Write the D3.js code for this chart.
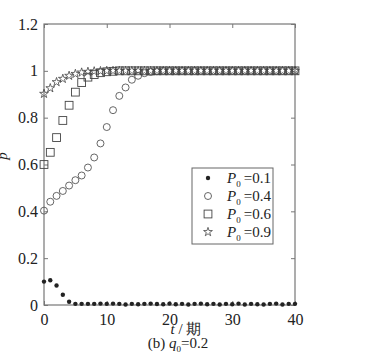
<!DOCTYPE html>
<html>
<head>
<meta charset="utf-8">
<script src="https://cdn.jsdelivr.net/npm/d3@7"></script>
<style>
  body { margin: 0; background: #fff; }
  svg, svg text { font-family: "Liberation Serif", "DejaVu Serif", serif; }
</style>
</head>
<body>
<script>
// t = 0..40
const periods = d3.range(0, 41);

const p01 = [0.100, 0.106, 0.083, 0.044, 0.014, 0.005, 0.005, 0.005, 0.005, 0.006,
             0.005, 0.006, 0.005, 0.002, 0.005, 0.003, 0.005, 0.006, 0.004, 0.003,
             0.006, 0.003, 0.005, 0.002, 0.005, 0.006, 0.003, 0.005, 0.002, 0.005,
             0.003, 0.006, 0.002, 0.005, 0.003, 0.002, 0.005, 0.006, 0.002, 0.005,
             0.005];
const p04 = [0.403, 0.441, 0.466, 0.487, 0.510, 0.533, 0.553, 0.587, 0.630, 0.690,
             0.760, 0.832, 0.893, 0.929, 0.962, 0.979, 0.990, 0.995, 0.998, 1, 1,
             1, 1, 1, 1, 1, 1, 1, 1, 1, 1, 1, 1, 1, 1, 1, 1, 1, 1, 1, 1];
const p06 = [0.600, 0.652, 0.715, 0.788, 0.853, 0.909, 0.950, 0.973, 0.984, 0.992,
             0.996, 0.998, 1, 1, 1, 1, 1, 1, 1, 1, 1,
             1, 1, 1, 1, 1, 1, 1, 1, 1, 1, 1, 1, 1, 1, 1, 1, 1, 1, 1, 1];
const p09 = [0.902, 0.926, 0.952, 0.966, 0.979, 0.987, 0.993, 0.996, 0.998, 0.999,
             1, 1, 1, 1, 1, 1, 1, 1, 1, 1, 1,
             1, 1, 1, 1, 1, 1, 1, 1, 1, 1, 1, 1, 1, 1, 1, 1, 1, 1, 1, 1];

const seriesLabels = ["=0.1", "=0.4", "=0.6", "=0.9"];
const seriesShapes = ["dot", "circle", "square", "star"];
const xTicks = [0, 10, 20, 30, 40];
const yTicks = [0, 0.2, 0.4, 0.6, 0.8, 1, 1.2];

const width = 375, height = 360;
const plotLeft = 44, plotRight = 295, plotTop = 24, plotBottom = 305;
const serif = "'Liberation Serif', 'DejaVu Serif', serif";

const svg = d3.select("body").append("svg")
  .attr("width", width)
  .attr("height", height)
  .style("display", "block")
  .style("font-family", serif);

const x = d3.scaleLinear().domain([0, 40]).range([plotLeft, plotRight]);
const y = d3.scaleLinear().domain([0, 1.2]).range([plotBottom, plotTop]);

const axisColor = "#777";

// frame
svg.append("rect")
  .attr("x", plotLeft).attr("y", plotTop)
  .attr("width", plotRight - plotLeft).attr("height", plotBottom - plotTop)
  .attr("fill", "none").attr("stroke", axisColor).attr("stroke-width", 1.2);

// axes (ticks point inward)
function styleAxis(g) {
  g.attr("font-family", null).style("font-family", serif);
  g.select(".domain").remove();
  g.selectAll(".tick line").attr("stroke", axisColor).attr("stroke-width", 1);
  g.selectAll(".tick text").attr("fill", "#222").attr("font-size", 16)
    .style("font-family", serif);
}

svg.append("g").attr("transform", `translate(0,${plotBottom})`)
  .call(d3.axisBottom(x).tickValues(xTicks).tickSize(-4).tickPadding(9).tickFormat(d3.format("d")))
  .call(styleAxis);
svg.append("g").attr("transform", `translate(0,${plotTop})`)
  .call(d3.axisTop(x).tickValues(xTicks).tickSize(-4).tickFormat(""))
  .call(styleAxis);
svg.append("g").attr("transform", `translate(${plotLeft},0)`)
  .call(d3.axisLeft(y).tickValues(yTicks).tickSize(-4).tickPadding(6).tickFormat(d => d === 0 || d === 1 ? d : d3.format(".1f")(d)))
  .call(styleAxis);
svg.append("g").attr("transform", `translate(${plotRight},0)`)
  .call(d3.axisRight(y).tickValues(yTicks).tickSize(-4).tickFormat(""))
  .call(styleAxis);

// marker drawing
const starPath = d3.symbol().type(d3.symbolStar).size(24)();
function drawMarker(sel, shape) {
  if (shape === "dot") {
    sel.append("circle").attr("r", 2.2).attr("fill", "#222");
  } else if (shape === "circle") {
    sel.append("circle").attr("r", 3.5).attr("fill", "none").attr("stroke", "#555").attr("stroke-width", 0.9);
  } else if (shape === "square") {
    sel.append("rect").attr("x", -3.9).attr("y", -3.9).attr("width", 7.8).attr("height", 7.8)
      .attr("fill", "none").attr("stroke", "#444").attr("stroke-width", 0.9);
  } else {
    sel.append("path").attr("d", starPath).attr("fill", "none").attr("stroke", "#444").attr("stroke-width", 0.8);
  }
}

const allSeries = [p01, p04, p06, p09];
allSeries.forEach((vals, i) => {
  const g = svg.append("g");
  g.selectAll("g")
    .data(periods)
    .enter().append("g")
      .attr("transform", t => `translate(${x(t)},${y(vals[t])})`)
      .each(function() { drawMarker(d3.select(this), seriesShapes[i]); });
});

// legend
const lg = svg.append("g").attr("transform", "translate(192,168)");
lg.append("rect").attr("width", 81).attr("height", 76)
  .attr("fill", "#fff").attr("stroke", "#666").attr("stroke-width", 1);
seriesLabels.forEach((lab, i) => {
  const row = lg.append("g").attr("transform", `translate(16,${10 + i * 18})`);
  drawMarker(row, seriesShapes[i]);
  const txt = row.append("text").attr("x", 19).attr("y", 5)
    .attr("font-size", 15).attr("fill", "#222");
  txt.append("tspan").attr("font-style", "italic").text("P");
  txt.append("tspan").attr("font-size", 9).attr("dy", 4).text("0");
  txt.append("tspan").attr("dy", -4).attr("dx", 3).text(lab);
});

// axis titles
const xt = svg.append("text").attr("x", 186).attr("y", 334)
  .attr("text-anchor", "middle").attr("font-size", 15).attr("fill", "#222");
xt.append("tspan").attr("font-style", "italic").text("t");
xt.append("tspan").text(" / 期");

const cap = svg.append("text").attr("x", 178).attr("y", 348)
  .attr("text-anchor", "middle").attr("font-size", 15).attr("fill", "#222");
cap.append("tspan").text("(b) ");
cap.append("tspan").attr("font-style", "italic").text("q");
cap.append("tspan").attr("font-size", 9).attr("dy", 4).text("0");
cap.append("tspan").attr("dy", -4).text("=0.2");

svg.append("text")
  .attr("transform", "translate(7,156) rotate(-90)")
  .attr("text-anchor", "middle").attr("font-size", 15).attr("font-style", "italic")
  .attr("fill", "#222").text("p");
</script>
</body>
</html>
